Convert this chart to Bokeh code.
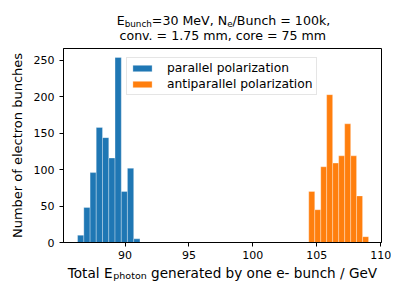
from bokeh.plotting import figure
from bokeh.models import Label, FixedTicker, Range1d, Legend, LegendItem
from bokeh.layouts import column
from bokeh.embed import file_html
from bokeh.resources import INLINE

# ---- data ----
parallel_edges = [86.29, 86.78, 87.27, 87.75, 88.24, 88.73, 89.22, 89.71, 90.19, 90.68, 91.17]
parallel_counts = [10, 48, 96, 158, 144, 116, 254, 70, 102, 5]
anti_edges = [104.37, 104.84, 105.31, 105.77, 106.24, 106.71, 107.18, 107.65, 108.11, 108.58, 109.05]
anti_counts = [70, 45, 104, 203, 109, 119, 163, 119, 64, 8]
x_ticks = [90, 95, 100, 105, 110]
y_ticks = [0, 50, 100, 150, 200, 250]
series_labels = ["parallel polarization", "antiparallel polarization"]
colors = ["#1f77b4", "#ff7f0e"]

FONT = "DejaVu Sans"
W = 391
LEFT, RIGHT = 63, 10
TOP_H, MAIN_H, BOT_H = 47, 216, 25
X0, X1 = 85.19, 110.06
Y0, Y1 = 0, 266.4

# ---- main plot ----
p = figure(width=W, height=MAIN_H, output_backend="svg", toolbar_location=None,
           x_range=Range1d(X0, X1), y_range=Range1d(Y0, Y1),
           min_border_left=LEFT, min_border_right=RIGHT, min_border_top=1, min_border_bottom=21)
p.background_fill_color = "white"
p.border_fill_color = "white"
p.outline_line_color = "black"
p.outline_line_width = 1
p.xgrid.visible = False
p.ygrid.visible = False

r1 = p.quad(left=parallel_edges[:-1], right=parallel_edges[1:], bottom=0, top=parallel_counts,
            fill_color=colors[0], line_color="white", line_width=1, line_alpha=0.3)
r2 = p.quad(left=anti_edges[:-1], right=anti_edges[1:], bottom=0, top=anti_counts,
            fill_color=colors[1], line_color="white", line_width=1, line_alpha=0.3)

for ax in (p.xaxis[0], p.yaxis[0]):
    ax.major_tick_in = 0
    ax.major_tick_out = 4
    ax.minor_tick_line_color = None
    ax.axis_line_color = "black"
    ax.major_tick_line_color = "black"
    ax.major_label_text_color = "black"
    ax.major_label_text_font = FONT
    ax.major_label_text_font_size = "11px"
p.xaxis.ticker = FixedTicker(ticks=x_ticks)
p.yaxis.ticker = FixedTicker(ticks=y_ticks)
p.xaxis.major_label_standoff = 4
p.yaxis.major_label_standoff = 5
p.yaxis.axis_label = "Number of electron bunches"
p.yaxis.axis_label_text_font = FONT
p.yaxis.axis_label_text_font_size = "13px"
p.yaxis.axis_label_text_font_style = "normal"
p.yaxis.axis_label_text_color = "black"
p.yaxis.axis_label_standoff = 6

legend = Legend(items=[LegendItem(label=series_labels[0], renderers=[r1]),
                       LegendItem(label=series_labels[1], renderers=[r2])],
                location=(63, 147), orientation="vertical")
legend.label_text_font = FONT
legend.label_text_font_size = "12.3px"
legend.label_text_color = "black"
legend.glyph_width = 24
legend.glyph_height = 8
legend.label_height = 12
legend.label_standoff = 13
legend.spacing = 2
legend.padding = 3
legend.margin = 0
legend.border_line_color = "#cccccc"
legend.border_line_width = 1
legend.background_fill_alpha = 0.8
p.add_layout(legend)


def text_panel(height):
    # frames of plots in one column are aligned with the main plot's frame
    f = figure(width=W, height=height, output_backend="svg", toolbar_location=None,
               x_range=Range1d(0, 1), y_range=Range1d(0, 1), title=None,
               x_axis_type=None, y_axis_type=None,
               min_border_left=LEFT, min_border_right=RIGHT, min_border_top=0, min_border_bottom=0)
    f.outline_line_color = None
    f.xgrid.visible = False
    f.ygrid.visible = False
    f.background_fill_color = "white"
    f.border_fill_color = "white"
    return f


# DejaVu Sans advance widths (units per em = 2048)
ADV = {' ': 651, '0': 1303, '1': 1303, '2': 1303, '3': 1303, '4': 1303, '5': 1303, '6': 1303,
       '7': 1303, '8': 1303, '9': 1303, '=': 1716, ',': 651, '.': 651, '/': 690, '-': 739,
       'E': 1294, 'M': 1767, 'V': 1401, 'N': 1532, 'B': 1405, 'T': 1251, 'G': 1577,
       'a': 1255, 'b': 1300, 'c': 1126, 'd': 1300, 'e': 1260, 'f': 721, 'g': 1300, 'h': 1298,
       'i': 569, 'k': 1186, 'l': 569, 'm': 1995, 'n': 1298, 'o': 1253, 'p': 1300, 'r': 842,
       's': 1067, 't': 803, 'u': 1298, 'v': 1212, 'y': 1212, 'z': 1075}


def tw(s, size):
    return sum(ADV.get(ch, 1200) for ch in s) / 2048.0 * size


def add_line(fig, pieces, cx_page, base_y):
    total = sum(tw(t, sz) + k for t, sz, _, k in pieces)
    x = cx_page - LEFT - total / 2.0
    for t, sz, dy, k in pieces:
        x += k
        lead = len(t) - len(t.lstrip(' '))
        xs = x + tw(' ' * lead, sz)
        fig.add_layout(Label(x=xs, y=base_y + dy, x_units="screen", y_units="screen",
                             text=t.strip(), text_font=FONT, text_font_size=f"{sz}px",
                             text_color="black", text_align="left", text_baseline="alphabetic"))
        x += tw(t, sz)


T = 12.6
TS = round(T * 0.7, 1)
top = text_panel(TOP_H)
add_line(top, [("E", T, 0, 0), ("bunch", TS, -3, 0), ("=30 MeV, N", T, 0, 0), ("e", TS, -3, 0),
               ("/Bunch = 100k,", T, 0, 0)], 223, 27)
add_line(top, [("conv. = 1.75 mm, core = 75 mm", T, 0, 0)], 223, 12)

L = 13.6
LS = round(L * 0.7, 1)
bot = text_panel(BOT_H)
add_line(bot, [("Total E", L, 0, 0), ("photon", LS, -3, -1.5),
               (" generated by one e- bunch / GeV", L, 0, 0)], 222, 16)

layout = column(top, p, bot, spacing=0)
open("out.html", "w").write(file_html(layout, INLINE))
